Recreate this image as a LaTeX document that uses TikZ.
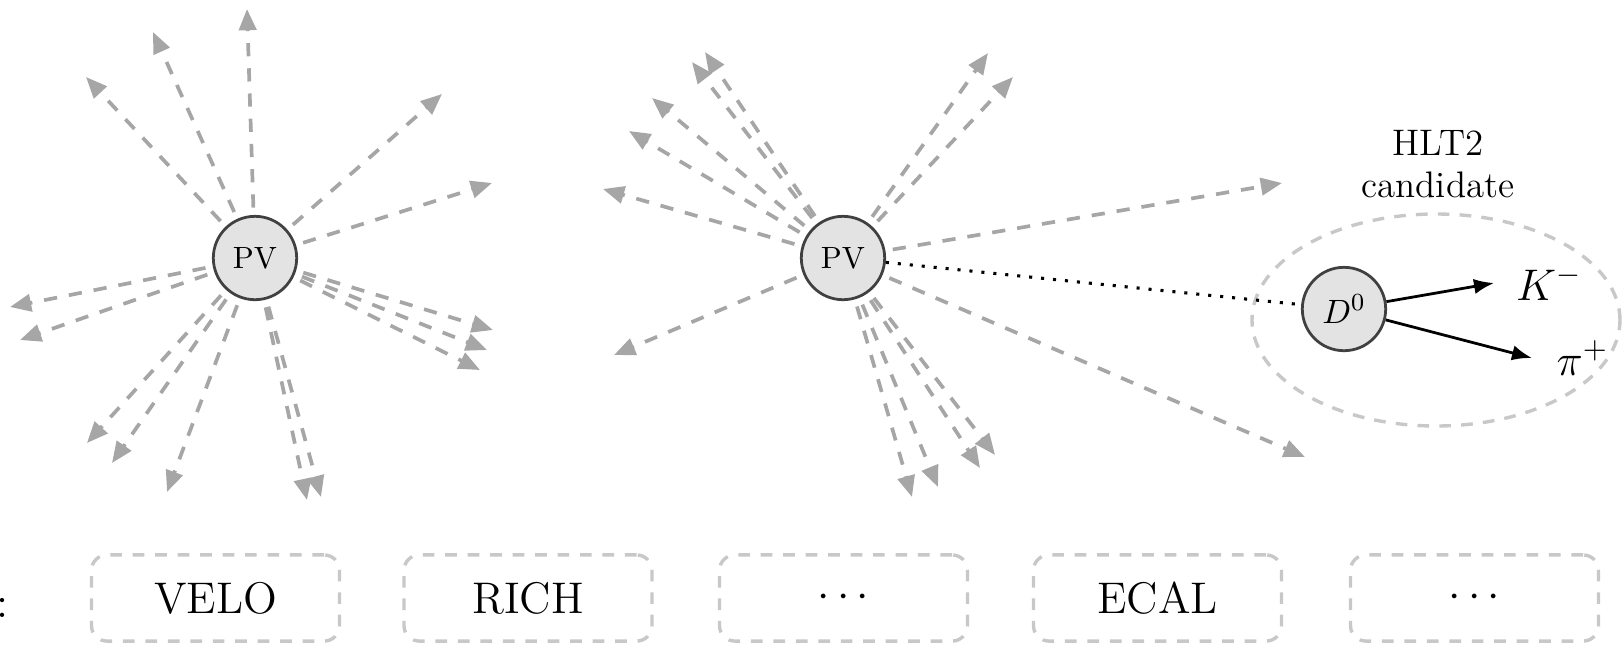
\documentclass[tikz,border=0pt]{standalone}
\usetikzlibrary{arrows.meta,shapes.geometric}
\definecolor{trk}{HTML}{A6A6A6}
\definecolor{lgt}{HTML}{C8C8C8}
\definecolor{vfill}{HTML}{E3E3E3}
\definecolor{vdraw}{HTML}{404040}
\begin{document}
\begin{tikzpicture}[x=0.325pt,y=-0.325pt,
  vtx/.style={circle,draw=vdraw,fill=vfill,line width=0.9pt,minimum size=27.1pt,inner sep=0pt},
  trkline/.style={draw=trk,line width=1.2pt,dash pattern=on 4.3pt off 3.9pt,
    -{Triangle[length=6.9pt,width=5.6pt,fill=trk]}},
  bx/.style={draw=lgt,line width=1.1pt,dash pattern=on 3.8pt off 3.5pt,rounded corners=5pt,
    minimum width=80.6pt,minimum height=28pt,inner sep=0pt,font=\Large},
  decay/.style={draw=black,line width=0.9pt,-{Latex[length=6.5pt,width=5pt]}}]
\useasboundingbox (0,0) rectangle (1622,647);
% primary vertex positions
\coordinate (pvL) at (255,258);
\coordinate (pvR) at (843,258);
% tracks of the left PV
\foreach \x/\y [count=\i] in {247/9,153/32,86/77,442/94,492/183,10/307,20/340,493/330,487/350,480/370,87/443,112/463,167/492,307/500,321/497}
  { \coordinate (la\i) at (\x,\y); \draw[trkline] (pvL) -- (la\i); }
% tracks of the right PV
\foreach \x/\y [count=\i] in {705/52,692/62,652/98,629/131,603/189,614/355,988/53,1013/77,1282/183,1305/457,912/497,938/487,980/468,995/455}
  { \coordinate (ra\i) at (\x,\y); \draw[trkline] (pvR) -- (ra\i); }
% candidate ellipse
\node[draw=lgt,ellipse,line width=1.1pt,dash pattern=on 3.8pt off 3.3pt,minimum width=119.6pt,minimum height=68.9pt,inner sep=0pt] (cand) at (1436,320) {};
\node[align=center,font=\fontsize{12}{13.6}\selectfont] (lbl) at (1438,164) {HLT2\\candidate};
% vertices
\node[vtx] (PVL) at (pvL) {PV};
\node[vtx] (PVR) at (pvR) {PV};
\node[vtx,font=\fontsize{11}{13}\selectfont] (D0) at (1344,309) {$D^0$};
\draw[black,line width=1pt,dash pattern=on 1pt off 2.9pt] (PVR) -- (D0);
\node[font=\Large,anchor=west,inner xsep=7pt] (K) at (1494,283) {$K^-$};
\node[font=\Large,anchor=west,inner xsep=7.8pt] (pi) at (1532,358) {$\pi^+$};
\draw[decay] (D0) -- (K.west);
\draw[decay] (D0) -- (pi.west);
% sub-detector boxes
\node[font=\Large,anchor=base west,inner sep=0pt] (colon) at (-4,617) {:};
\node[bx] (velo) at (215.5,598) {VELO};
\node[bx] (rich) at (528,598) {RICH};
\node[bx] (dots1) at (843.5,598) {$\cdots$};
\node[bx] (ecal) at (1157.5,598) {ECAL};
\node[bx] (dots2) at (1474.5,598) {$\cdots$};
\end{tikzpicture}
\end{document}
